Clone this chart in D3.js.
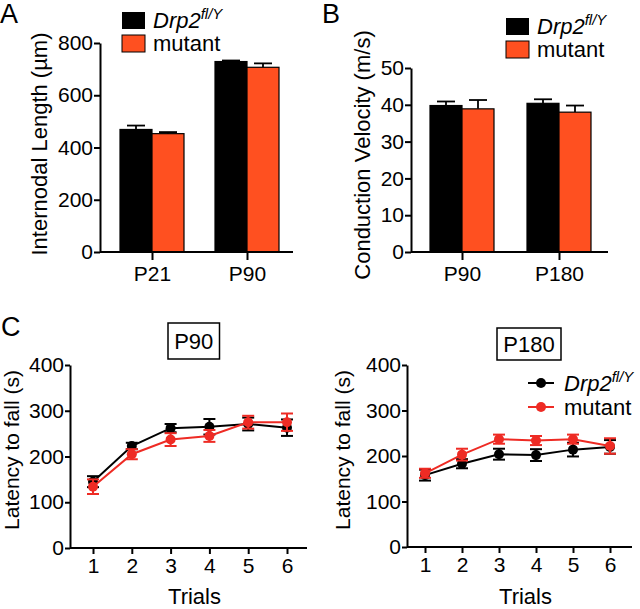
<!DOCTYPE html>
<html>
<head>
<meta charset="utf-8">
<script src="https://cdn.jsdelivr.net/npm/d3@7"></script>
<style>
  body { margin: 0; background: #fff; }
  svg { font-family: "Liberation Sans", Arial, Helvetica, sans-serif; }
  .axis path, .axis line { stroke: #000; stroke-width: 2px; }
  .axis text { font-size: 21px; fill: #000; }
</style>
</head>
<body>
<div id="fig"></div>
<script>
// data
var seriesNames = ["Drp2", "mutant"];

// panel A: internodal length (um)
var ageA = ["P21", "P90"];
var lengthWT = [469, 729];
var lengthWTerr = [15, 4];
var lengthMut = [453, 707];
var lengthMutErr = [6, 15];

// panel B: conduction velocity (m/s)
var ageB = ["P90", "P180"];
var velWT = [39.8, 40.4];
var velWTerr = [1.1, 1.1];
var velMut = [38.9, 38.0];
var velMutErr = [2.4, 1.8];

// panel C: rotarod latency to fall (s)
var trials = [1, 2, 3, 4, 5, 6];
var p90WT = [145, 223, 262, 265, 271, 263];
var p90WTerr = [12, 7, 9, 17, 14, 18];
var p90Mut = [134, 205, 237, 245, 275, 275];
var p90MutErr = [16, 11, 14, 13, 14, 19];
var p180WT = [158, 183, 204, 202, 214, 220];
var p180WTerr = [12, 10, 12, 13, 15, 15];
var p180Mut = [162, 203, 237, 234, 237, 222];
var p180MutErr = [10, 13, 10, 10, 10, 17];

var barBlack = "#000";
var barRed = "#ff5020";
var lineRed = "#ee2b24";

var svg = d3.select("#fig").append("svg")
  .attr("width", 640)
  .attr("height", 609);

// superscript-style genotype label
function genoLabel(sel, x, y) {
  var t = sel.append("text")
    .attr("x", x).attr("y", y)
    .attr("font-size", 22)
    .attr("font-style", "italic");
  t.append("tspan").text("Drp2");
  t.append("tspan").attr("dy", -9).attr("font-size", 15).text("fl/Y");
}

function panelLetter(x, y, txt) {
  svg.append("text").attr("x", x).attr("y", y)
    .attr("font-size", 27).text(txt);
}

function yTitle(x, y, txt, size) {
  svg.append("text")
    .attr("transform", `translate(${x},${y}) rotate(-90)`)
    .attr("text-anchor", "middle")
    .attr("font-size", size || 22)
    .text(txt);
}

// grouped bar chart
function barPanel(opt) {
  var y = d3.scaleLinear().domain(opt.domain).range([252, opt.yTop]);
  var x = d3.scalePoint().domain(opt.cats).range(opt.xRange);
  var sub = d3.scaleBand().domain(seriesNames).range([-32, 32]);

  var g = svg.append("g");

  var rows = [];
  opt.cats.forEach((c, i) => {
    rows.push({ cat: c, s: "Drp2", v: opt.wt[i], e: opt.wtErr[i], fill: barBlack });
    rows.push({ cat: c, s: "mutant", v: opt.mut[i], e: opt.mutErr[i], fill: barRed });
  });

  // error bars (upper only)
  var eb = g.selectAll("g.err").data(rows).enter().append("g");
  eb.append("line")
    .attr("x1", d => x(d.cat) + sub(d.s) + sub.bandwidth() / 2)
    .attr("x2", d => x(d.cat) + sub(d.s) + sub.bandwidth() / 2)
    .attr("y1", d => y(d.v))
    .attr("y2", d => y(d.v + d.e))
    .attr("stroke", "#000").attr("stroke-width", 1.8);
  eb.append("line")
    .attr("x1", d => x(d.cat) + sub(d.s) + sub.bandwidth() / 2 - 9)
    .attr("x2", d => x(d.cat) + sub(d.s) + sub.bandwidth() / 2 + 9)
    .attr("y1", d => y(d.v + d.e))
    .attr("y2", d => y(d.v + d.e))
    .attr("stroke", "#000").attr("stroke-width", 1.8);

  g.selectAll("rect.bar").data(rows).enter().append("rect")
    .attr("x", d => x(d.cat) + sub(d.s))
    .attr("y", d => y(d.v))
    .attr("width", sub.bandwidth())
    .attr("height", d => y(0) - y(d.v))
    .attr("fill", d => d.fill)
    .attr("stroke", "#000")
    .attr("stroke-width", 1.2);

  g.append("g").attr("class", "axis")
    .attr("transform", `translate(${opt.xAxis[0]},0)`)
    .call(d3.axisLeft(y).tickValues(opt.ticks).tickSize(6).tickPadding(1).tickSizeOuter(0));

  var xa = g.append("g").attr("class", "axis")
    .attr("transform", "translate(0,252)")
    .call(d3.axisBottom(x).tickSize(8).tickPadding(6).tickSizeOuter(0));
  xa.selectAll("text").attr("font-size", 22);
  xa.select(".domain").attr("d", `M${opt.xAxis[0]},0H${opt.xAxis[1]}`);

  // legend
  var lg = svg.append("g");
  lg.append("rect").attr("x", opt.leg[0]).attr("y", opt.leg[1])
    .attr("width", 23).attr("height", 17).attr("fill", barBlack);
  lg.append("rect").attr("x", opt.leg[0]).attr("y", opt.leg[1] + 23)
    .attr("width", 23).attr("height", 17).attr("fill", barRed)
    .attr("stroke", "#000").attr("stroke-width", 1);
  genoLabel(lg, opt.leg[0] + 31, opt.leg[1] + 16);
  lg.append("text").attr("x", opt.leg[0] + 31).attr("y", opt.leg[1] + 39)
    .attr("font-size", 22).text("mutant");
}

barPanel({
  domain: [0, 800], yTop: 43, ticks: [0, 200, 400, 600, 800],
  cats: ageA, xRange: [152, 247], xAxis: [100, 293],
  wt: lengthWT, wtErr: lengthWTerr, mut: lengthMut, mutErr: lengthMutErr,
  leg: [122, 12]
});
barPanel({
  domain: [0, 50], yTop: 68, ticks: [0, 10, 20, 30, 40, 50],
  cats: ageB, xRange: [462, 559], xAxis: [411, 608],
  wt: velWT, wtErr: velWTerr, mut: velMut, mutErr: velMutErr,
  leg: [506, 18]
});

panelLetter(0, 23, "A");
panelLetter(322, 23, "B");
panelLetter(1, 336, "C");
yTitle(47, 144, "Internodal Length (\u00b5m)");
yTitle(370, 155, "Conduction Velocity (m/s)");

// line panels
function linePanel(opt) {
  var y = d3.scaleLinear().domain([0, 400]).range([opt.y0, 365]);
  var x = d3.scaleLinear().domain([1, 6]).range(opt.xRange);
  var g = svg.append("g");

  g.append("g").attr("class", "axis")
    .attr("transform", `translate(${opt.xAxis[0]},0)`)
    .call(d3.axisLeft(y).tickValues([0, 100, 200, 300, 400]).tickSize(5).tickPadding(1).tickSizeOuter(0));
  var xa = g.append("g").attr("class", "axis")
    .attr("transform", `translate(0,${opt.y0})`)
    .call(d3.axisBottom(x).tickValues(trials).tickFormat(d3.format("d")).tickSize(6).tickPadding(4).tickSizeOuter(0));
  xa.select(".domain").attr("d", `M${opt.xAxis[0]},0H${opt.xAxis[1]}`);

  var series = [
    { v: opt.wt, e: opt.wtErr, c: "#000" },
    { v: opt.mut, e: opt.mutErr, c: lineRed }
  ];

  var line = d3.line().x((d, i) => x(trials[i])).y(d => y(d));

  series.forEach(s => {
    var sg = g.append("g");
    sg.append("path").datum(s.v)
      .attr("d", line).attr("fill", "none")
      .attr("stroke", s.c).attr("stroke-width", 2);
    var eb = sg.selectAll("g.e").data(trials).enter().append("g");
    eb.append("line")
      .attr("x1", (d, i) => x(d)).attr("x2", (d, i) => x(d))
      .attr("y1", (d, i) => y(s.v[i] - s.e[i]))
      .attr("y2", (d, i) => y(s.v[i] + s.e[i]))
      .attr("stroke", s.c).attr("stroke-width", 2);
    [-1, 1].forEach(k => {
      eb.append("line")
        .attr("x1", d => x(d) - 6).attr("x2", d => x(d) + 6)
        .attr("y1", (d, i) => y(s.v[i] + k * s.e[i]))
        .attr("y2", (d, i) => y(s.v[i] + k * s.e[i]))
        .attr("stroke", s.c).attr("stroke-width", 2);
    });
    sg.selectAll("circle").data(trials).enter().append("circle")
      .attr("cx", d => x(d))
      .attr("cy", (d, i) => y(s.v[i]))
      .attr("r", 5).attr("fill", s.c);
  });

  // title box
  var bw = opt.title.length * 12.5 + 14;
  g.append("rect")
    .attr("x", opt.box[0]).attr("y", opt.box[1])
    .attr("width", bw).attr("height", opt.box[2])
    .attr("fill", "none").attr("stroke", "#000").attr("stroke-width", 1.5);
  g.append("text")
    .attr("x", opt.box[0] + bw / 2).attr("y", opt.box[1] + opt.box[2] / 2 + 8)
    .attr("text-anchor", "middle").attr("font-size", 22).text(opt.title);

  g.append("text")
    .attr("x", (opt.xAxis[0] + opt.xAxis[1]) / 2 + 6).attr("y", 604)
    .attr("text-anchor", "middle").attr("font-size", 22).text("Trials");
  yTitle(opt.yTitleX, 450, "Latency to fall (s)", 21);
}

linePanel({
  y0: 548, xRange: [93, 287], xAxis: [70, 307],
  wt: p90WT, wtErr: p90WTerr, mut: p90Mut, mutErr: p90MutErr,
  title: "P90", box: [168, 323, 36], yTitleX: 19
});
linePanel({
  y0: 547, xRange: [425, 610], xAxis: [407, 632],
  wt: p180WT, wtErr: p180WTerr, mut: p180Mut, mutErr: p180MutErr,
  title: "P180", box: [497, 328, 32], yTitleX: 350
});

// legend for P180 panel
var lg2 = svg.append("g");
[["#000", 383], [lineRed, 407]].forEach(r => {
  lg2.append("line").attr("x1", 528).attr("x2", 554)
    .attr("y1", r[1]).attr("y2", r[1])
    .attr("stroke", r[0]).attr("stroke-width", 2);
  lg2.append("circle").attr("cx", 541).attr("cy", r[1]).attr("r", 5).attr("fill", r[0]);
});
genoLabel(lg2, 564, 391);
lg2.append("text").attr("x", 564).attr("y", 415).attr("font-size", 22).text("mutant");
</script>
</body>
</html>
